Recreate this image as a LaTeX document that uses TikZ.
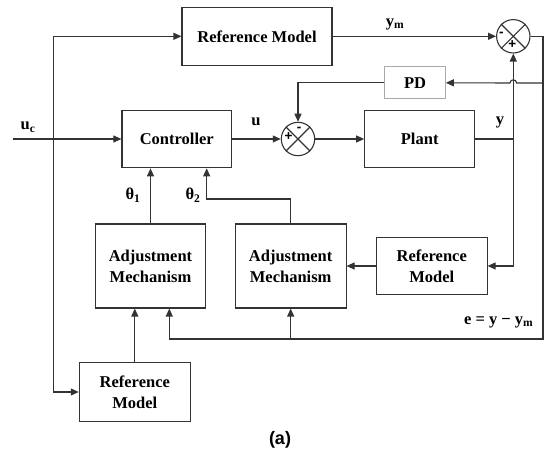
\documentclass[tikz,border=0pt]{standalone}
\usepackage{fontspec}
\setmainfont{Liberation Serif}
\newfontfamily\capfont{Liberation Sans}
\usetikzlibrary{arrows.meta}
\definecolor{lc}{HTML}{333333}
\definecolor{pdgray}{HTML}{AAAAAA}
\begin{document}
\begin{tikzpicture}[x=1pt,y=-1pt,
  blk/.style={draw=lc, line width=1.1pt, inner sep=0pt, align=center,
    font=\fontsize{16.5}{21}\selectfont\bfseries},
  sumnode/.style={circle, draw=lc, line width=1.1pt, minimum size=33.4pt, inner sep=0pt},
  lbl/.style={font=\fontsize{16.5}{20}\selectfont\bfseries, inner sep=0pt},
  sgn/.style={font=\capfont\fontsize{13.5}{13.5}\selectfont\bfseries, inner sep=0pt},
  wire/.style={draw=lc, line width=1.1pt},
  arr/.style={wire, -{Triangle[length=8pt,width=7pt]}}
]
\useasboundingbox (0,0) rectangle (544,454);

% blocks
\node[blk, minimum width=150pt, minimum height=58pt] (rmT) at (257,36.3) {Reference Model};
\node[blk, draw=pdgray, minimum width=60.6pt, minimum height=32.3pt] (pd) at (415,82.8) {PD};
\node[blk, minimum width=109.7pt, minimum height=57.6pt] (ctrl) at (176.8,139) {Controller};
\node[blk, minimum width=110pt, minimum height=57.6pt] (plant) at (419.7,139) {Plant};
\node[blk, minimum width=110.4pt, minimum height=84pt] (am1) at (150.5,266) {Adjustment\\Mechanism};
\node[blk, minimum width=110.7pt, minimum height=84pt] (am2) at (290.7,266) {Adjustment\\Mechanism};
\node[blk, minimum width=110.7pt, minimum height=57.3pt] (rmR) at (431.7,266) {Reference\\Model};
\node[blk, minimum width=111pt, minimum height=58.3pt] (rmB) at (134.8,392) {Reference\\Model};

% summing junctions
\node[sumnode] (sT) at (513.3,36.3) {};
\draw[wire] (sT.north west) -- (sT.south east) (sT.north east) -- (sT.south west);
\node[sgn] at (501.3,34.3) {-};
\node[sgn] at (512.3,45) {+};

\node[sumnode] (sL) at (298,139) {};
\draw[wire] (sL.north west) -- (sL.south east) (sL.north east) -- (sL.south west);
\node[sgn] at (288.5,137) {+};
\node[sgn] at (299,129.5) {-};

% free ends and corners
\coordinate (uin) at (12.7,139);
\coordinate (jL) at (53.3,139);
\coordinate (eB) at (543,339);
\coordinate (eL) at (169.3,339);
\coordinate (pdR) at (543,83);
\coordinate (yJ) at (513.3,139);
\coordinate (t2) at (206.7,199);

% connectors
\draw[arr] (uin) -- (ctrl.west);
\draw[arr] (jL) |- (rmT.west);
\draw[arr] (jL) |- (rmB.west);
\draw[arr] (rmT.east) -- (sT.west);
\draw[arr] (sT.east) -| (eB) -| (eL |- am1.south);
\draw[arr] (am2.south |- eB) -- (am2.south);
\draw[arr] (pdR) -- (516.6,83) .. controls (516.6,78.8) and (510,78.8) .. (510,83) -- (pd.east);
\draw[arr] (pd.west) -| (sL.north);
\draw[arr] (ctrl.east) -- (sL.west);
\draw[arr] (sL.east) -- (plant.west);
\draw[arr] (plant.east) -| (sT.south);
\draw[arr] (yJ) |- (rmR.east);
\draw[arr] (rmR.west) -- (am2.east);
\draw[arr] (am2.north) |- (t2) -- (t2 |- ctrl.south);
\draw[arr] (am1.north) -- (am1.north |- ctrl.south);
\draw[arr] (rmB.north) -- (rmB.north |- am1.south);

% signal labels
\node[lbl] (luc) at (28,127) {u\textsubscript{c}};
\node[lbl] (lu) at (256,122) {u};
\node[lbl] (ly) at (500,122.7) {y};
\node[lbl] (lym) at (395,24) {y\textsubscript{m}};
\node[lbl] (lt1) at (133,195) {θ\textsubscript{1}};
\node[lbl] (lt2) at (193,195) {θ\textsubscript{2}};
\node[lbl] (le) at (498.7,322) {e = y − y\textsubscript{m}};
\node[font=\capfont\fontsize{18}{20}\selectfont\bfseries] (cap) at (280,440) {(a)};
\end{tikzpicture}
\end{document}
